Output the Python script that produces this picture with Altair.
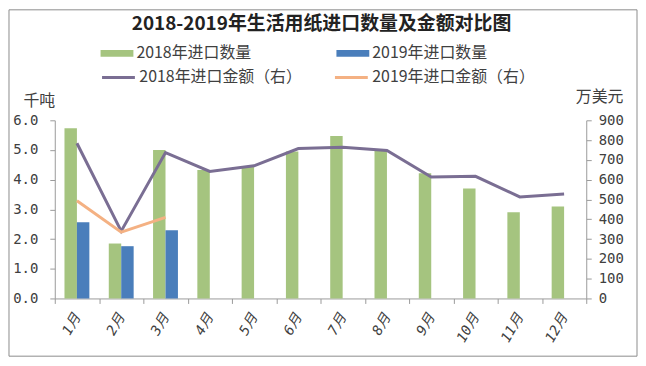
import altair as alt
import pandas as pd

months = ["1月", "2月", "3月", "4月", "5月", "6月", "7月", "8月", "9月", "10月", "11月", "12月"]
qty_2018 = [5.73, 1.85, 5.00, 4.33, 4.43, 4.95, 5.47, 5.00, 4.22, 3.70, 2.90, 3.10]
qty_2019 = [2.57, 1.76, 2.30]
amt_2018 = [784, 340, 737, 642, 670, 757, 764, 747, 613, 617, 513, 528]
amt_2019 = [494, 335, 410]
bar_series = ["2018年进口数量", "2019年进口数量"]
line_series = ["2018年进口金额（右）", "2019年进口金额（右）"]
bar_colors = ["#A5C47F", "#4A7EBB"]
line_colors = ["#7A6E93", "#F4B183"]
title_text = ["2018-2019年生活用纸进口数量及金额对比图"]

bars_df = pd.DataFrame({
    "month": months + months[:len(qty_2019)],
    "series": [bar_series[0]] * len(qty_2018) + [bar_series[1]] * len(qty_2019),
    "value": qty_2018 + qty_2019,
})
lines_df = pd.DataFrame({
    "month": months + months[:len(amt_2019)],
    "series": [line_series[0]] * len(amt_2018) + [line_series[1]] * len(amt_2019),
    "value": amt_2018 + amt_2019,
})

FONT = "Noto Sans CJK SC"
MONO = "DejaVu Sans Mono, Noto Sans CJK SC"
GRAY = "#9a9a9a"
TXT = "#404040"

x_enc = alt.X(
    "month:N", sort=months, title=None,
    scale=alt.Scale(domain=months, paddingInner=0, paddingOuter=0),
    axis=alt.Axis(
        labelAngle=300, labelAlign="right", labelBaseline="middle",
        labelFontSize=14, labelFont=MONO, labelColor=TXT, labelFontStyle="italic",
        labelPadding=11, tickBand="extent", tickSize=5, tickColor=GRAY,
        domainColor=GRAY, grid=False,
    ),
)

bars = alt.Chart(bars_df).mark_bar().encode(
    x=x_enc,
    xOffset=alt.XOffset("series:N", scale=alt.Scale(domain=bar_series, paddingInner=0, paddingOuter=0.78)),
    y=alt.Y(
        "value:Q",
        scale=alt.Scale(domain=[0, 6], nice=False),
        axis=alt.Axis(
            values=[0, 1, 2, 3, 4, 5, 6], format=".1f", grid=False,
            labelFontSize=14, labelFont=MONO, labelColor=TXT, labelPadding=12,
            tickSize=5, tickColor=GRAY, domainColor=GRAY,
            title="千吨", titleAngle=0, titleAlign="left", titleBaseline="middle",
            titleX=-32, titleY=-20, titleFontSize=16, titleFont=FONT,
            titleFontWeight="normal", titleColor=TXT,
        ),
    ),
    color=alt.Color(
        "series:N",
        scale=alt.Scale(domain=bar_series, range=bar_colors),
        legend=alt.Legend(
            orient="none", legendX=46, legendY=-84, direction="horizontal",
            columns=2, columnPadding=85, title=None,
            symbolType="M-1,-0.2H1V0.2H-1Z", symbolSize=1089, symbolStrokeWidth=0,
            labelFontSize=16, labelFont=FONT, labelColor=TXT, labelOffset=3,
            labelLimit=400, padding=0,
        ),
    ),
)

lines = alt.Chart(lines_df).mark_line(strokeWidth=3).encode(
    x=alt.X("month:N", sort=months),
    y=alt.Y(
        "value:Q",
        scale=alt.Scale(domain=[0, 900], nice=False),
        axis=alt.Axis(
            orient="right", values=list(range(0, 901, 100)), grid=False,
            labelFontSize=14, labelFont=MONO, labelColor=TXT, labelPadding=7,
            tickSize=5, tickColor=GRAY, domainColor=GRAY,
            title="万美元", titleAngle=0, titleAlign="left", titleBaseline="middle",
            titleX=-11, titleY=-24, titleFontSize=16, titleFont=FONT,
            titleFontWeight="normal", titleColor=TXT,
        ),
    ),
    stroke=alt.Stroke(
        "series:N",
        scale=alt.Scale(domain=line_series, range=line_colors),
        legend=alt.Legend(
            orient="none", legendX=46, legendY=-61, direction="horizontal",
            columns=2, columnPadding=26, title=None,
            symbolType="stroke", symbolSize=1089, symbolStrokeWidth=3,
            labelFontSize=16, labelFont=FONT, labelColor=TXT, labelOffset=3,
            labelLimit=400, padding=0,
        ),
    ),
)

frame = alt.Chart(pd.DataFrame({"a": [0]})).mark_rect(
    fillOpacity=0, stroke="#8c8c8c", strokeWidth=1
).encode(
    x=alt.value(-46), x2=alt.value(585), y=alt.value(-111), y2=alt.value(237)
)

title = alt.Chart(pd.DataFrame({"t": title_text})).mark_text(
    fontSize=19, fontWeight="bold", font=FONT, color="#222222",
    align="center", baseline="middle",
).encode(
    text="t:N", x=alt.value(268), y=alt.value(-97)
)

chart = alt.layer(frame, title, bars, lines).resolve_scale(
    y="independent"
).properties(
    width=534, height=179,
    autosize=alt.AutoSizeParams(type="none"),
    padding={"left": 47, "top": 112, "right": 52, "bottom": 60},
).configure_view(stroke=None)

chart.save("out.html", embed_options={"renderer": "svg", "actions": False})
